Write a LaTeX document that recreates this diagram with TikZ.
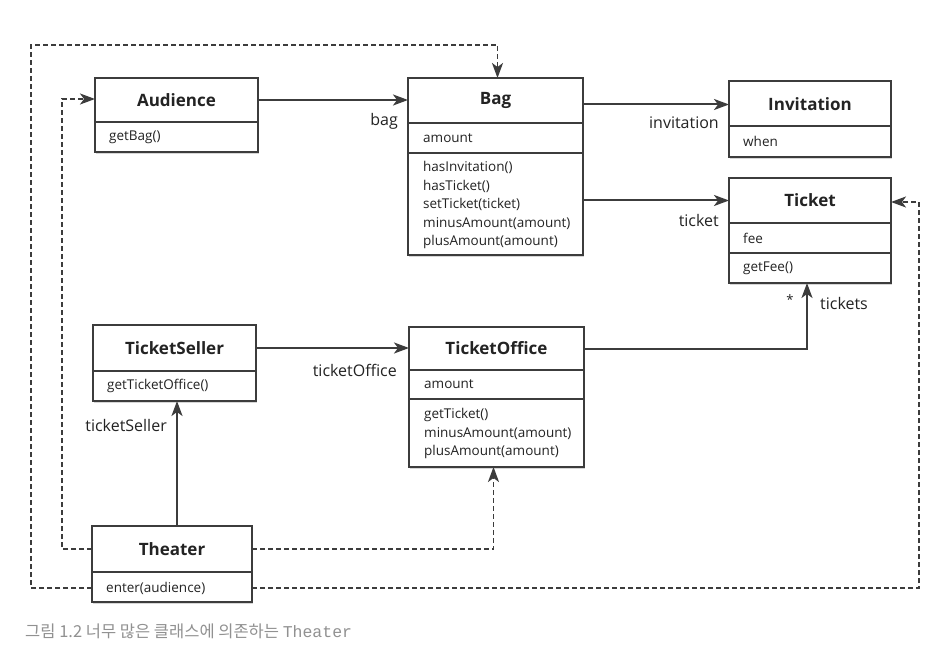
\documentclass[tikz,border=0pt]{standalone}
\usepackage{fontspec}
\setmainfont{Open Sans}
\newfontfamily\cjkfont{Noto Sans CJK KR}
\newfontfamily\capmono{Liberation Mono}
\usetikzlibrary{arrows.meta,shadows}
\definecolor{ln}{RGB}{60,60,60}
\definecolor{tx}{RGB}{35,35,35}
\definecolor{capc}{RGB}{145,145,145}
\begin{document}
\begin{tikzpicture}[x=1pt,y=-1pt,
 cls/.style={draw=ln, line width=1.4pt, fill=white, outer sep=0pt, inner sep=0pt,
   drop shadow={shadow xshift=0.8pt, shadow yshift=-2.2pt, opacity=0.35, fill=black!45}},
 ttl/.style={font=\fontsize{17}{20}\selectfont\bfseries, text=tx, inner sep=0pt},
 mem/.style={font=\fontsize{13.5}{18.5}\selectfont, text=tx, anchor=west, inner sep=0pt, align=left},
 lbl/.style={font=\fontsize{16}{19}\selectfont, text=tx, inner sep=0pt},
 arr/.style={draw=ln, line width=2pt, -{Stealth[length=15pt,width=11pt,inset=4pt]}},
 dep/.style={arr, dash pattern=on 5pt off 3pt, line width=1.7pt},
 divl/.style={draw=ln, line width=1.3pt}
]
\useasboundingbox[fill=white] (0,0) rectangle (945,652);

% Audience
\node[cls, minimum width=163pt, minimum height=74pt] (aud) at (176.5,115) {};
\draw[divl] (95,122) -- (258,122);
\node[ttl] (audT) at (176.5,100) {Audience};
\node[mem] (audM) at (109,137) {getBag()};

% Bag
\node[cls, minimum width=175pt, minimum height=177pt] (bag) at (495.5,166.5) {};
\draw[divl] (408,123) -- (583,123);
\draw[divl] (408,153) -- (583,153);
\node[ttl] (bagT) at (495.5,100.5) {Bag};
\node[mem] (bagA) at (423,138) {amount};
\node[mem] (bagM) at (423,205) {hasInvitation()\\hasTicket()\\setTicket(ticket)\\minusAmount(amount)\\plusAmount(amount)};

% Invitation
\node[cls, minimum width=162pt, minimum height=76pt] (inv) at (810,119) {};
\draw[divl] (729,126) -- (891,126);
\node[ttl] (invT) at (810,104.5) {Invitation};
\node[mem] (invA) at (743,141.5) {when};

% Ticket
\node[cls, minimum width=162pt, minimum height=105pt] (tik) at (810,230.5) {};
\draw[divl] (729,223) -- (891,223);
\draw[divl] (729,253) -- (891,253);
\node[ttl] (tikT) at (810,200.5) {Ticket};
\node[mem] (tikA) at (743,238) {fee};
\node[mem] (tikM) at (743,268) {getFee()};

% TicketSeller
\node[cls, minimum width=163pt, minimum height=76pt] (ts) at (174.5,363) {};
\draw[divl] (93,371) -- (256,371);
\node[ttl] (tsT) at (174.5,348) {TicketSeller};
\node[mem] (tsM) at (107,386) {getTicketOffice()};

% TicketOffice
\node[cls, minimum width=175pt, minimum height=140pt] (to) at (496.5,397) {};
\draw[divl] (409,370) -- (584,370);
\draw[divl] (409,399) -- (584,399);
\node[ttl] (toT) at (496.5,348.5) {TicketOffice};
\node[mem] (toA) at (424,384.5) {amount};
\node[mem] (toM) at (424,433.5) {getTicket()\\minusAmount(amount)\\plusAmount(amount)};

% Theater
\node[cls, minimum width=160pt, minimum height=76pt] (thr) at (172,564) {};
\draw[divl] (92,572) -- (252,572);
\node[ttl] (thrT) at (172,549) {Theater};
\node[mem] (thrM) at (106,588) {enter(audience)};

% associations
\draw[arr] (audT -| aud.east) -- (audT -| bag.west);
\draw[arr] (invT -| bag.east) -- (invT -| inv.west);
\draw[arr] (tikT -| bag.east) -- (tikT -| tik.west);
\draw[arr] (tsT -| ts.east) -- (tsT -| to.west);
\coordinate (tkin) at ([xshift=-3pt]tik.south);
\draw[arr] (toT -| to.east) -| (tkin);
\coordinate (tsin) at ([xshift=2.5pt]ts.south);
\draw[arr] (tsin |- thr.north) -- (tsin);

% dependencies
\coordinate (c1) at (62,99);
\draw[dep] (thrT -| thr.west) -| (c1) -- (c1 -| aud.west);
\coordinate (toin) at ([xshift=-3pt]to.south);
\draw[dep] (thrT -| thr.east) -| (toin);
\coordinate (c2) at (31,45);
\coordinate (bagin) at ([xshift=2pt]bag.north);
\draw[dep] (thrM -| thr.west) -| (c2) -| (bagin);
\coordinate (c3) at (919,202);
\draw[dep] (thrM -| thr.east) -| (c3) -- (c3 -| tik.east);

% labels
\node[lbl, anchor=east] (lbag) at (398,121) {bag};
\node[lbl, anchor=east] (linv) at (719,123) {invitation};
\node[lbl, anchor=east] (ltik) at (719,221) {ticket};
\node[lbl, anchor=east] (lto) at (397,370) {ticketOffice};
\node[lbl, anchor=east] (lts) at (167,425) {ticketSeller};
\node[lbl, font=\fontsize{13}{15}\selectfont] (lstar) at (790,300) {*};
\node[lbl, anchor=west] (ltks) at (820,304) {tickets};

% caption
\node[anchor=west, text=capc, font=\fontsize{16.5}{19}\selectfont, inner sep=0pt] (capt) at (25,631)
  {\cjkfont 그림 1.2 너무 많은 클래스에 의존하는 {\capmono Theater}};
\end{tikzpicture}
\end{document}
